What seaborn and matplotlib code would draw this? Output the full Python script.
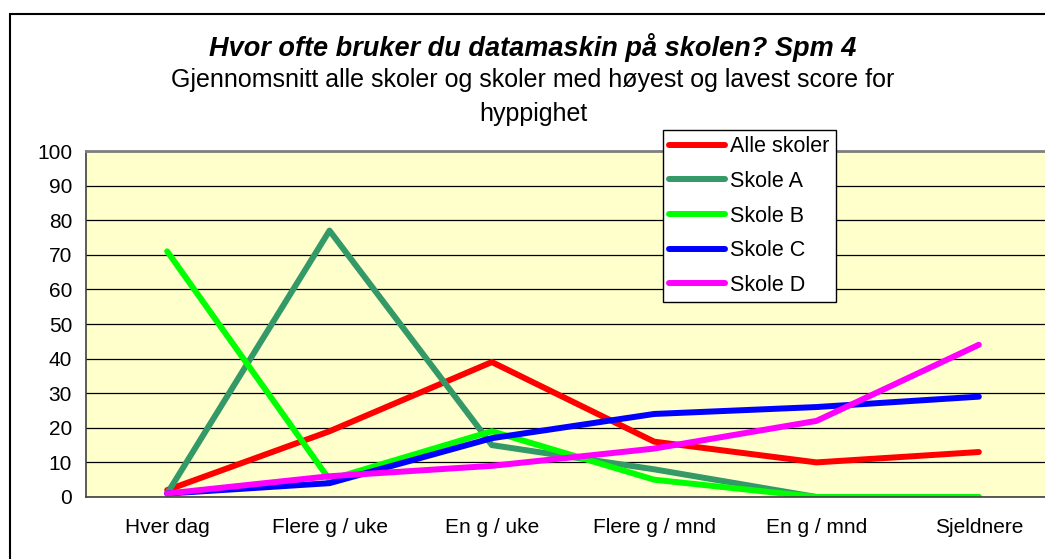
import numpy as np
import pandas as pd
import seaborn as sns
import matplotlib.pyplot as plt
from matplotlib.patches import Rectangle

# Data
categories = ['Hver dag', 'Flere g / uke', 'En g / uke', 'Flere g / mnd', 'En g / mnd', 'Sjeldnere']
alle_skoler = [2, 19, 39, 16, 10, 13]
skole_a = [1, 77, 15, 8, 0, 0]
skole_b = [71, 5, 19, 5, 0, 0]
skole_c = [1, 4, 17, 24, 26, 29]
skole_d = [1, 6, 9, 14, 22, 44]

series_names = ['Alle skoler', 'Skole A', 'Skole B', 'Skole C', 'Skole D']
series_colors = ['#FF0000', '#339966', '#00FF00', '#0000FF', '#FF00FF']

df = pd.DataFrame({
    'pos': np.tile(np.arange(len(categories)), len(series_names)),
    'verdi': alle_skoler + skole_a + skole_b + skole_c + skole_d,
    'serie': np.repeat(series_names, len(categories)),
})

sns.set_style('white')
plt.rcParams['font.family'] = ['Liberation Sans', 'DejaVu Sans']
plt.rcParams['text.color'] = 'black'
plt.rcParams['xtick.color'] = 'black'
plt.rcParams['ytick.color'] = 'black'

fig = plt.figure(figsize=(10.45, 5.59), dpi=100)
# plot area runs past the right edge, like the cropped original
ax = fig.add_axes([86 / 1045, 62 / 559, 974 / 1045, 346 / 559])
ax.set_facecolor('#FFFFCC')

sns.lineplot(data=df, x='pos', y='verdi', hue='serie', hue_order=series_names,
             palette=series_colors, linewidth=4.3, ax=ax, legend=False,
             solid_capstyle='round', solid_joinstyle='round')

ax.set_xlim(-0.5, len(categories) - 0.5)
ax.set_ylim(0, 100)
ax.set_yticks(np.arange(0, 101, 10))
ax.yaxis.grid(True, color='black', linewidth=0.9)
ax.set_axisbelow(True)
ax.set_xticks(np.arange(len(categories)))
ax.set_xticklabels(categories)
ax.set_xticks(np.arange(-0.5, len(categories), 1), minor=True)
ax.tick_params(axis='x', which='major', length=0, pad=15, labelsize=15)
ax.tick_params(axis='x', which='minor', length=6, width=1, color='black', direction='out')
ax.tick_params(axis='y', length=6, width=1, color='black', direction='out', pad=4, labelsize=15)
ax.set_xlabel('')
ax.set_ylabel('')
for side in ['top', 'right']:
    ax.spines[side].set_color('#808080')
    ax.spines[side].set_linewidth(2)
for side in ['left', 'bottom']:
    ax.spines[side].set_color('#404040')
    ax.spines[side].set_linewidth(1.2)

handles = [plt.Line2D([], [], color=c, linewidth=4.3, solid_capstyle='round') for c in series_colors]
leg = fig.legend(handles, series_names, loc='upper left', bbox_to_anchor=(663 / 1045, 1 - 130 / 559),
                 fontsize=15.5, frameon=True, fancybox=False, handlelength=2.6, handletextpad=0.2,
                 labelspacing=0.63, borderpad=0.3, borderaxespad=0)
leg.get_frame().set_edgecolor('black')
leg.get_frame().set_linewidth(1)
leg.get_frame().set_facecolor('white')
leg.get_frame().set_alpha(1)

fig.text(533 / 1045, 1 - 47 / 559, 'Hvor ofte bruker du datamaskin på skolen? Spm 4',
         ha='center', va='center', fontsize=19.5, fontweight='bold', fontstyle='italic')
fig.text(533 / 1045, 1 - 97 / 559,
         'Gjennomsnitt alle skoler og skoler med høyest og lavest score for\nhyppighet',
         ha='center', va='center', fontsize=18, linespacing=1.5)

# outer chart frame (cropped at right and bottom)
fig.patches.append(Rectangle((10 / 1045, -0.05), 1.1, 1.05 - 14 / 559, transform=fig.transFigure,
                             fill=False, edgecolor='black', linewidth=1.5, clip_on=False))

fig.savefig('out.png', dpi=100)
